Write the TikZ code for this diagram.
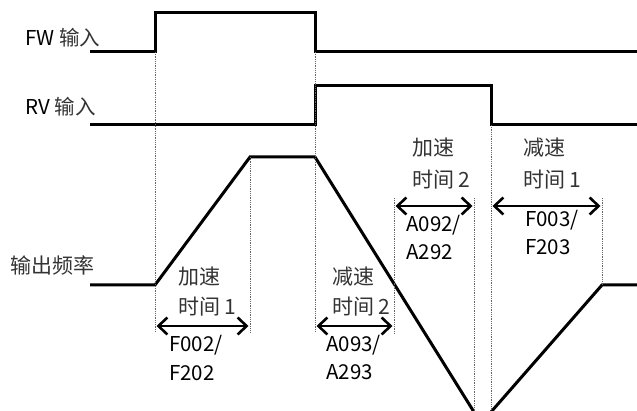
\documentclass[tikz,border=0pt]{standalone}
\usepackage{fontspec}
\setmainfont{Noto Sans CJK SC}
\usetikzlibrary{arrows.meta}
\begin{document}
\begin{tikzpicture}[x=1pt,y=-1pt,
  wave/.style={line width=3pt, line join=miter},
  guide/.style={line width=0.9pt, dash pattern=on 0.9pt off 0.9pt, black!60},
  span/.style={line width=2.6pt, shorten <=1.5pt, shorten >=1.5pt,
    {Straight Barb[length=9pt,width=17pt,line width=2.6pt]}-{Straight Barb[length=9pt,width=17pt,line width=2.6pt]}},
  lbl/.style={anchor=west, inner sep=0pt, font=\fontsize{20.5}{22}\selectfont},
  cjk/.style={lbl, text=black!80, font=\fontsize{21}{23}\selectfont}]
\useasboundingbox (0,0) rectangle (637,411);

% signal waveforms
\draw[wave] (90,52) -- (155,52) -- (155,13) -- (315,13) -- (315,52) -- (637,52);
\draw[wave] (90,125) -- (315,125) -- (315,86) -- (491,86) -- (491,125) -- (637,125);
\draw[wave] (90,285) -- (155,285) -- (250,157) -- (315,157) -- (474,412);
\draw[wave] (491,412) -- (602,285) -- (637,285);

% guide lines
\draw[guide] (155,52) -- (155,332);
\draw[guide] (250,157) -- (250,332);
\draw[guide] (315,52) -- (315,332);
\draw[guide] (394,198) -- (394,334);
\draw[guide] (474,198) -- (474,411);
\draw[guide] (491,125) -- (491,411);
\draw[guide] (602,198) -- (602,285);

% span coordinates
\coordinate (a1l) at (155,326); \coordinate (a1r) at (250,326);
\coordinate (d2l) at (315,326); \coordinate (d2r) at (394,326);
\coordinate (a2l) at (394,206); \coordinate (a2r) at (474,206);
\coordinate (d1l) at (491,206); \coordinate (d1r) at (602,206);
\draw[span] (a1l) -- (a1r);
\draw[span] (d2l) -- (d2r);
\draw[span] (a2l) -- (a2r);
\draw[span] (d1l) -- (d1r);

% labels
\node[lbl] (fw) at (25,38) {FW \textcolor{black!80}{输入}};
\node[lbl] (rv) at (25,107) {RV \textcolor{black!80}{输入}};
\node[cjk] (out) at (10,265) {输出频率};

\node[cjk] (t1a) at (178,277) {加速};
\node[cjk] (t1b) at (178,307) {时间 1};
\node[lbl] (t1c) at (169,345) {F002/};
\node[lbl] (t1d) at (169,373) {F202};

\node[cjk] (t2a) at (332,277) {减速};
\node[cjk] (t2b) at (332,307) {时间 2};
\node[lbl] (t2c) at (326,345) {A093/};
\node[lbl] (t2d) at (326,372) {A293};

\node[cjk] (t3a) at (412,148) {加速};
\node[cjk] (t3b) at (412,180) {时间 2};
\node[lbl] (t3c) at (406,225) {A092/};
\node[lbl] (t3d) at (406,252) {A292};

\node[cjk] (t4a) at (523,148) {减速};
\node[cjk] (t4b) at (523,180) {时间 1};
\node[lbl] (t4c) at (525,220) {F003/};
\node[lbl] (t4d) at (525,247) {F203};
\end{tikzpicture}
\end{document}
